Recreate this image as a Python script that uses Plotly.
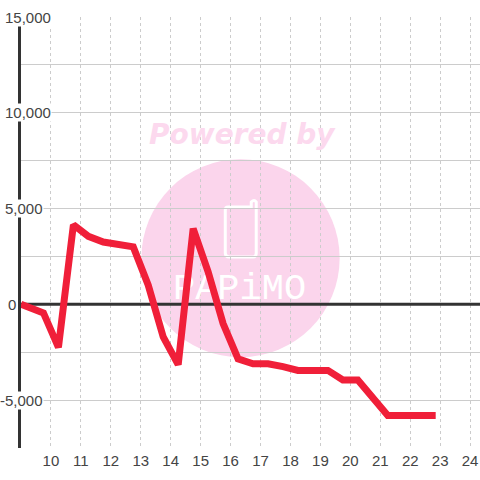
import plotly.graph_objects as go

hours = [9, 9.75, 10.25, 10.75, 11.25, 11.75, 12.75, 13.25, 13.75, 14.25, 14.75, 15.25,
         15.75, 16.25, 16.75, 17.25, 17.75, 18.25, 19.25, 19.75, 20.25, 21.25, 22.85]
values = [0, -450, -2250, 4150, 3550, 3250, 3000, 1000, -1700, -3150, 3950, 1700,
          -1000, -2850, -3100, -3100, -3250, -3450, -3450, -3950, -3950, -5800, -5800]
x_ticks = list(range(10, 25))
y_grid = list(range(-7500, 15001, 2500))
y_labels = [15000, 10000, 5000, 0, -5000]
y_label_text = ["15,000", "10,000", "5,000", "0", "-5,000"]
y_label_shift = [31, 31, 23, -4, 23]

W, H = 480, 480
L, T, R, B = 20.5, 16.5, 480, 448.5
px = lambda v: (v - L) / (R - L)
py = lambda v: (B - v) / (B - T)
INK = "#444444"
AXIS = "#333333"
GRID = "#cccccc"
PINK = "#fbd5ec"

fig = go.Figure()
fig.add_trace(go.Scatter(x=[16.3], y=[740], mode="text", text=["PAPiMO"], hoverinfo="skip",
                         textposition="middle center",
                         textfont=dict(family="Liberation Mono", size=37, color="white")))
fig.add_trace(go.Scatter(x=[9, 24.33], y=[0, 0], mode="lines", hoverinfo="skip",
                         line=dict(color=AXIS, width=3)))
fig.add_trace(go.Scatter(x=hours, y=values, mode="lines", hoverinfo="skip",
                         line=dict(color="#f01f39", width=7)))

shapes = [
    dict(type="circle", xref="paper", yref="paper", layer="below",
         x0=px(141), x1=px(339.5), y0=py(357.5), y1=py(159),
         fillcolor=PINK, line=dict(width=0)),
    dict(type="path", xref="paper", yref="paper", layer="below",
         path=(f"M {px(251)} {py(207)} L {px(228)} {py(207)} Q {px(225)} {py(207)} {px(225)} {py(210)} "
               f"L {px(225)} {py(253)} Q {px(225)} {py(257)} {px(229)} {py(257)} "
               f"L {px(253)} {py(257)} Q {px(256)} {py(257)} {px(256)} {py(253)} "
               f"L {px(256)} {py(202)} Q {px(254)} {py(199)} {px(251)} {py(202)} Z"),
         fillcolor="rgba(0,0,0,0)", line=dict(color="white", width=3)),
]

annotations = [
    dict(xref="paper", yref="paper", x=px(242), y=py(134), text="<b><i>Powered by</i></b>",
         showarrow=False, xanchor="center", yanchor="middle",
         font=dict(family="DejaVu Sans", size=28, color="#fcd9ee")),
]
for v, t, s in zip(y_labels, y_label_text, y_label_shift):
    annotations.append(dict(xref="x", yref="y", x=9, y=v, text=t, showarrow=False,
                            xanchor="right", yanchor="middle", xshift=s, borderpad=0,
                            bgcolor="white", font=dict(family="Liberation Sans", size=15, color=INK)))

fig.update_layout(
    width=W, height=H, autosize=False,
    margin=dict(l=L, r=W - R, t=T, b=H - B),
    paper_bgcolor="white", plot_bgcolor="white",
    showlegend=False, shapes=shapes, annotations=annotations,
    xaxis=dict(range=[9, 24.33], tickmode="array", tickvals=x_ticks, ticktext=[str(v) for v in x_ticks],
               showgrid=True, gridcolor=GRID, gridwidth=1, griddash="3px,3px", zeroline=False,
               showline=False, ticks="", tickangle=0, ticklabelstandoff=2,
               tickfont=dict(family="Liberation Sans", size=15, color=INK)),
    yaxis=dict(range=[-7500, 15000], tickmode="array", tickvals=y_grid, showticklabels=False,
               showgrid=True, gridcolor=GRID, gridwidth=1, zeroline=False,
               showline=True, linecolor=AXIS, linewidth=3, ticks=""),
)

post = """
var s=document.createElement('style');
s.textContent='html,body{margin:0;padding:0;overflow:hidden;} .scatterlayer .js-line{stroke-linejoin:miter !important;stroke-miterlimit:2;stroke-linecap:butt !important;}';
document.head.appendChild(s);
"""
fig.write_html("out.html", post_script=post, config=dict(displayModeBar=False))
